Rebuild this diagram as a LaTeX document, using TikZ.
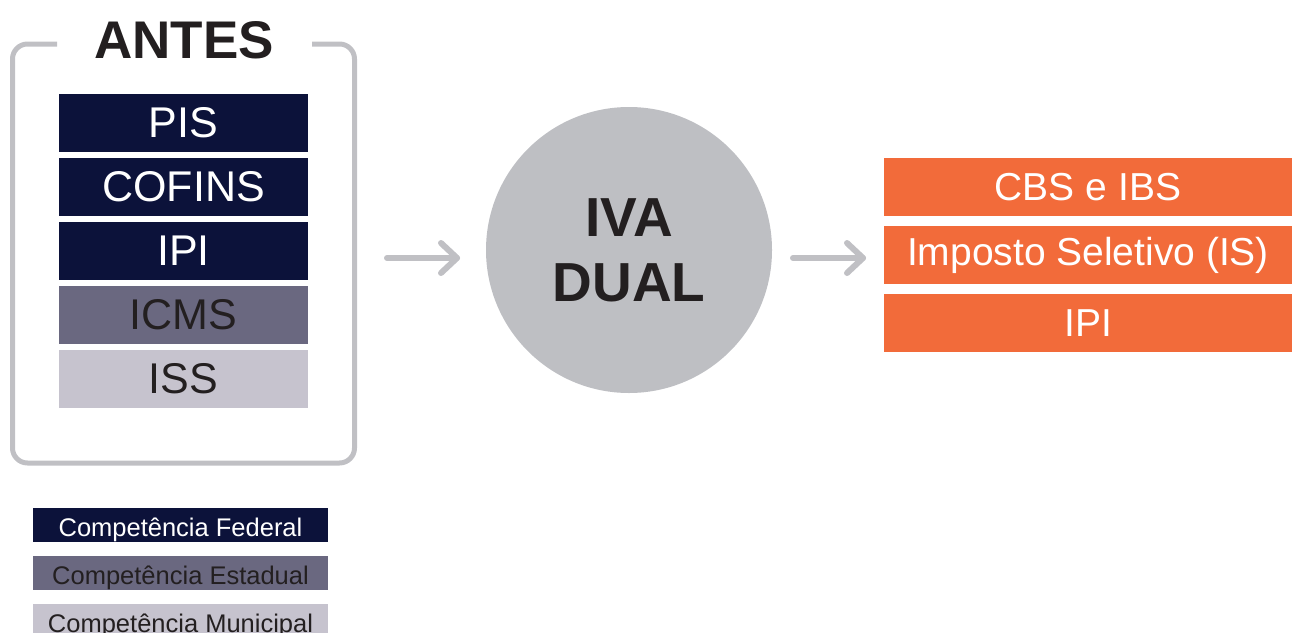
\documentclass[tikz,border=0pt]{standalone}
\usepackage{fontspec}
\setmainfont{Liberation Sans}
\usetikzlibrary{arrows.meta}
\definecolor{fed}{HTML}{0C123A}
\definecolor{est}{HTML}{6A6880}
\definecolor{mun}{HTML}{C6C3CE}
\definecolor{frm}{HTML}{C0C0C4}
\definecolor{circ}{HTML}{BEBFC3}
\definecolor{orng}{HTML}{F26B3A}
\definecolor{ink}{HTML}{231F20}
\tikzset{
  taxbox/.style={minimum width=249pt, minimum height=58pt, inner sep=0pt, font=\fontsize{43}{43}\selectfont},
  newbox/.style={fill=orng, text=white, minimum width=408pt, minimum height=58pt, inner sep=0pt, font=\fontsize{39}{39}\selectfont},
  legbox/.style={minimum width=295pt, minimum height=34pt, inner sep=0pt, text height=22.5pt, text depth=0.5pt, font=\fontsize{25.5}{25.5}\selectfont},
  flow/.style={frm, line width=6pt, line cap=round, line join=round},
}
\begin{document}
\begin{tikzpicture}[x=1pt,y=-1pt]
\useasboundingbox (0,0) rectangle (1292,632);
% frame
\draw[frm, line width=5pt, rounded corners=15pt] (57,44) -- (12.5,44) -- (12.5,463) -- (354.5,463) -- (354.5,44) -- (312,44);
\node[text=ink, font=\fontsize{53}{53}\selectfont\bfseries] (antes) at (184,40) {ANTES};
% old taxes
\node[taxbox, fill=fed, text=white] (pis) at (183.5,123) {PIS};
\node[taxbox, fill=fed, text=white] (cofins) at (183.5,187) {COFINS};
\node[taxbox, fill=fed, text=white] (ipi) at (183.5,251) {IPI};
\node[taxbox, fill=est, text=ink] (icms) at (183.5,315) {ICMS};
\node[taxbox, fill=mun, text=ink] (iss) at (183.5,379) {ISS};
% circle
\node[circle, fill=circ, minimum size=286pt, inner sep=0pt, text=ink, align=center, font=\fontsize{55}{65}\selectfont\bfseries] (iva) at (629,250) {IVA\\DUAL};
% new taxes
\node[newbox] (cbs) at (1088,187) {CBS e IBS};
\node[newbox] (is) at (1088,255) {Imposto Seletivo (IS)};
\node[newbox] (ipi2) at (1088,323) {IPI};
% arrows
\coordinate (a1s) at (387,258);
\coordinate (a1e) at (457,258);
\coordinate (a2s) at (793,258);
\coordinate (a2e) at (863,258);
\draw[flow] (a1s) -- (a1e);
\draw[flow] ([shift={(-16,-15)}]a1e) -- (a1e) -- ([shift={(-16,15)}]a1e);
\draw[flow] (a2s) -- (a2e);
\draw[flow] ([shift={(-16,-15)}]a2e) -- (a2e) -- ([shift={(-16,15)}]a2e);
% legend
\node[legbox, fill=fed, text=white] (lfed) at (180.5,525) {Competência Federal};
\node[legbox, fill=est, text=ink] (lest) at (180.5,573) {Competência Estadual};
\node[legbox, fill=mun, text=ink] (lmun) at (180.5,621) {Competência Municipal};
\end{tikzpicture}
\end{document}
